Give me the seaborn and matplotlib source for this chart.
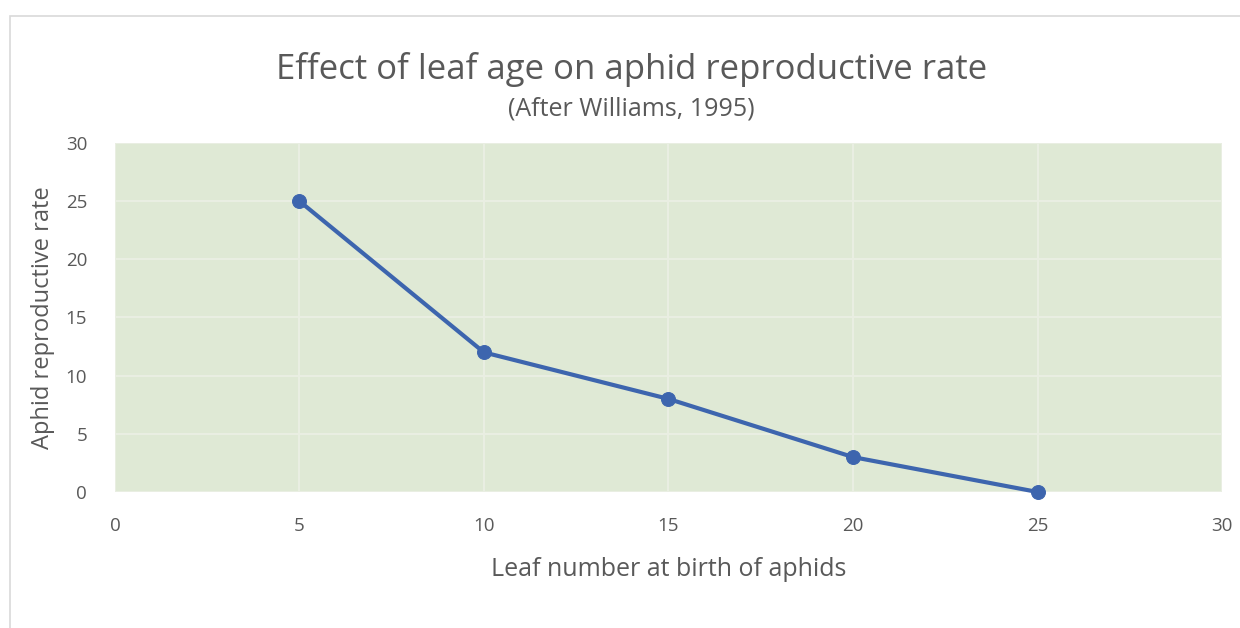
import pandas as pd
import seaborn as sns
import matplotlib.pyplot as plt
from matplotlib.patches import Rectangle

# Data
leaf_number = [5, 10, 15, 20, 25]
reproductive_rate = [25, 12, 8, 3, 0]

df = pd.DataFrame({'leaf': leaf_number, 'rate': reproductive_rate})

sns.set_style('white')
plt.rcParams['font.family'] = ['Open Sans', 'DejaVu Sans']

text_col = '#595959'
line_col = '#3d65ae'

fig = plt.figure(figsize=(12.4, 6.28), dpi=100)
ax = fig.add_axes([0.0927, 0.2166, 0.8928, 0.5557])
ax.set_facecolor('#dfe9d5')

sns.lineplot(data=df, x='leaf', y='rate', ax=ax, color=line_col, linewidth=3,
             marker='o', markersize=10, markeredgecolor=line_col, clip_on=False, zorder=3)

ax.set_xlim(0, 30)
ax.set_ylim(0, 30)
ax.set_xticks(range(0, 31, 5))
ax.set_yticks(range(0, 31, 5))
ax.grid(True, color='#e9eee2', linewidth=1.5, zorder=0)
ax.set_axisbelow(True)
for s in ax.spines.values():
    s.set_visible(False)
ax.tick_params(axis='both', length=0, labelsize=13.5, colors=text_col)
ax.tick_params(axis='x', pad=18)
ax.tick_params(axis='y', pad=20)

ax.set_xlabel('Leaf number at birth of aphids', fontsize=18, color=text_col, labelpad=16)
ax.set_ylabel('Aphid reproductive rate', fontsize=17, color=text_col, labelpad=8)

fig.text(0.509, 0.890, 'Effect of leaf age on aphid reproductive rate', ha='center', va='center',
         fontsize=25, color=text_col)
fig.text(0.509, 0.826, '(After Williams, 1995)', ha='center', va='center',
         fontsize=18, color=text_col)

# faint chart border
fig.patches.append(Rectangle((0.008, -0.02), 1.1, 0.995, transform=fig.transFigure,
                             fill=False, edgecolor='#d9d9d9', linewidth=1.2))

fig.savefig('out.png', dpi=100)
